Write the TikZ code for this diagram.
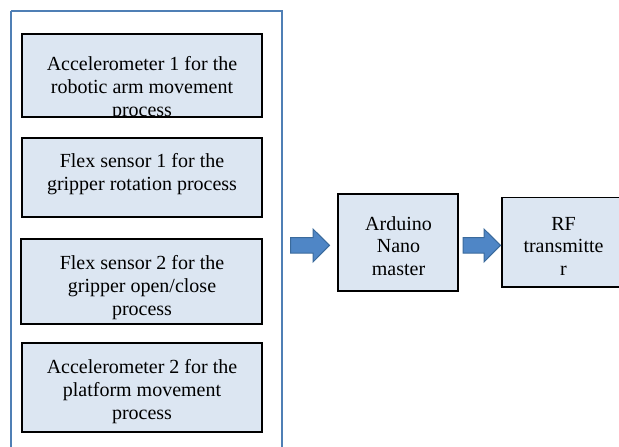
\documentclass[tikz,border=0pt]{standalone}
\usepackage{fontspec}
\setmainfont{Liberation Serif}
\definecolor{boxfill}{HTML}{DCE6F2}
\definecolor{contline}{HTML}{4F7FB5}
\definecolor{arrfill}{HTML}{4F86C6}
\definecolor{arredge}{HTML}{3A6A9C}
\begin{document}
\begin{tikzpicture}[x=1pt,y=-1pt,
  sensorbox/.style={draw=black,line width=1.8pt,fill=boxfill},
  txt/.style={inner sep=0pt,align=center,font=\fontsize{20}{23}\selectfont},
  blockarrow/.style={draw=arredge,line width=1pt,fill=arrfill,line join=miter}]
\useasboundingbox (0,0) rectangle (619,447);
% container
\draw[contline,line width=1.6pt] (11,11) -- (11,460) (282,460) -- (282,11) -- (11,11);
% box 1
\path[sensorbox] (22,34) rectangle (262,117);
\begin{scope}
\clip (22,34) rectangle (262,115.5);
\node[txt] (t1) at (142,88.5) {Accelerometer 1 for the\\robotic arm movement\\process};
\end{scope}
\draw[black,line width=1.8pt] (22,34) rectangle (262,117);
% box 2
\path[sensorbox] (22,138) rectangle (262,217);
\node[txt] (t2) at (142,174.5) {Flex sensor 1 for the\\gripper rotation process};
% box 3
\path[sensorbox] (21,239) rectangle (262,324);
\begin{scope}
\clip (21,239) rectangle (262,321.5);
\node[txt] (t3) at (142,288) {Flex sensor 2 for the\\gripper open/close\\process};
\end{scope}
\draw[black,line width=1.8pt] (21,239) rectangle (262,324);
% box 4
\path[sensorbox] (22,343) rectangle (262,432);
\node[txt] (t4) at (142,391.5) {Accelerometer 2 for the\\platform movement\\process};
% Arduino
\path[sensorbox] (338,194) rectangle (458,291);
\node[txt,font=\fontsize{20}{22.5}\selectfont] (ard) at (398.5,246) {Arduino\\Nano\\master};
% RF
\path[sensorbox] (502,197.5) rectangle (630,287);
\node[txt,font=\fontsize{20}{22.5}\selectfont] (rf) at (563.5,246) {RF\\transmitte\\r};
% arrows
\path[blockarrow] (290.5,237.5) -- (313,237.5) -- (313,229) -- (329.5,245.3) -- (313,262) -- (313,253) -- (290.5,253) -- cycle;
\path[blockarrow] (463,237.5) -- (484,237.5) -- (484,229) -- (500.5,245.3) -- (484,262) -- (484,253) -- (463,253) -- cycle;
\end{tikzpicture}
\end{document}
